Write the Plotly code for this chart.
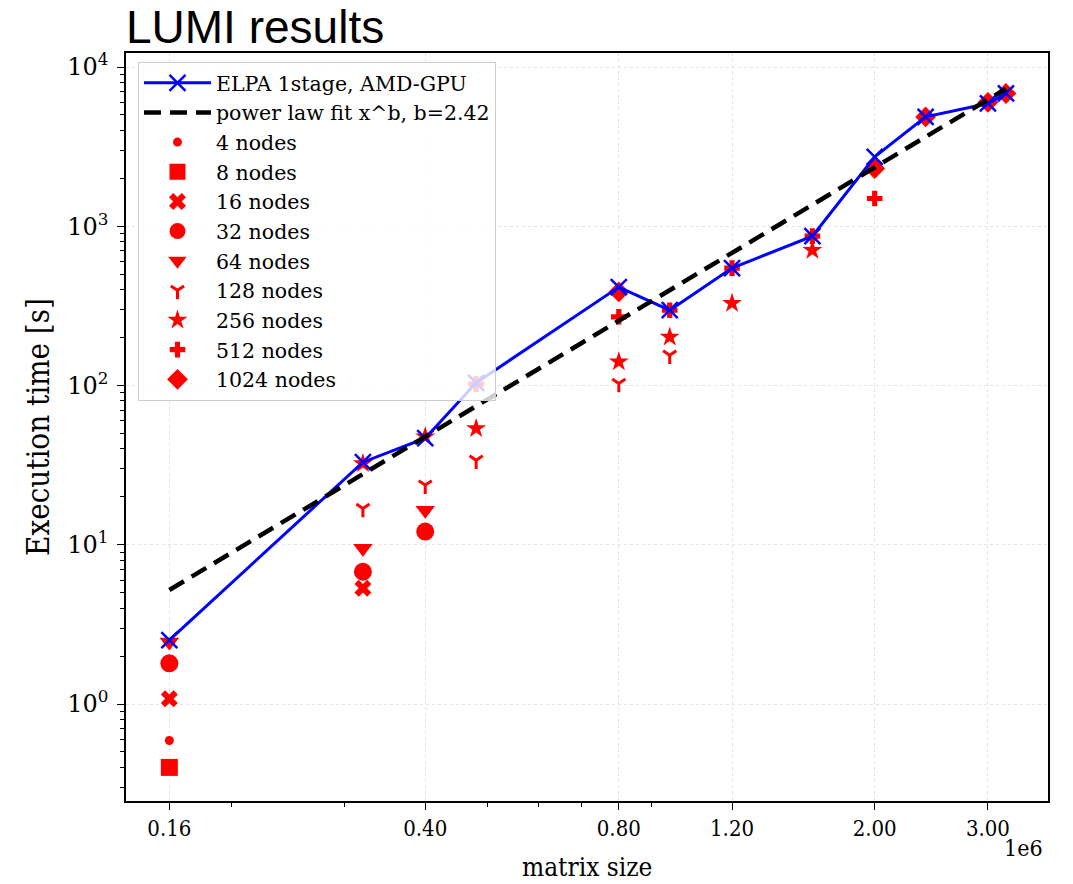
import numpy as np
import plotly.graph_objects as go

# ---------------- data (matrix size in units of 1e6, time in seconds) -------------
elpa_sizes = [0.16, 0.32, 0.40, 0.48, 0.80, 0.96, 1.20, 1.60, 2.00, 2.40, 3.00, 3.20]
elpa_times = [2.52, 33.0, 46.7, 104.0, 415.0, 297.0, 546.0, 867.0, 2728.0, 4862.0, 5902.0, 6820.0]

fit_sizes = [0.16, 3.20]
fit_times = [5.2, 7300.0]
fit_label = "power law fit x^b, b=2.42"

node_labels = ["4 nodes", "8 nodes", "16 nodes", "32 nodes", "64 nodes",
               "128 nodes", "256 nodes", "512 nodes", "1024 nodes"]

n4_sizes = [0.16]
n4_times = [0.59]
n8_sizes = [0.16]
n8_times = [0.40]
n16_sizes = [0.16, 0.32]
n16_times = [1.08, 5.33]
n32_sizes = [0.16, 0.32, 0.40]
n32_times = [1.80, 6.77, 12.1]
n64_sizes = [0.16, 0.32, 0.40]
n64_times = [2.45, 9.5, 16.5]
n128_sizes = [0.32, 0.40, 0.48, 0.80, 0.96]
n128_times = [16.9, 23.7, 34.0, 103.0, 155.0]
n256_sizes = [0.32, 0.40, 0.48, 0.80, 0.96, 1.20, 1.60]
n256_times = [32.4, 47.6, 53.8, 141.0, 202.0, 328.0, 708.0]
n512_sizes = [0.48, 0.80, 0.96, 1.20, 1.60, 2.00]
n512_times = [102.0, 270.0, 297.0, 546.0, 867.0, 1494.0]
n1024_sizes = [0.80, 2.00, 2.40, 3.00, 3.20]
n1024_times = [387.0, 2306.0, 4860.0, 6000.0, 6820.0]

x_tick_vals = [0.16, 0.40, 0.80, 1.20, 2.00, 3.00]
x_tick_text = ["0.16", "0.40", "0.80", "1.20", "2.00", "3.00"]
x_minor_vals = [0.2, 0.3, 0.5, 0.6, 0.7, 0.9]
y_tick_vals = [1, 10, 100, 1000, 10000]
y_tick_text = ["10<sup>0</sup>", "10<sup>1</sup>", "10<sup>2</sup>", "10<sup>3</sup>", "10<sup>4</sup>"]

SCALE = 1e6

# ---------------- styles ----------------
node_series = [
    (n4_sizes, n4_times, dict(symbol="circle", size=9)),
    (n8_sizes, n8_times, dict(symbol="square", size=17)),
    (n16_sizes, n16_times, dict(symbol="x", size=15)),
    (n32_sizes, n32_times, dict(symbol="circle", size=18)),
    (n64_sizes, n64_times, dict(symbol="triangle-down", size=17)),
    (n128_sizes, n128_times, dict(symbol="y-down", size=11, line=dict(color="red", width=3))),
    (n256_sizes, n256_times, dict(symbol="star", size=15)),
    (n512_sizes, n512_times, dict(symbol="cross", size=13)),
    (n1024_sizes, n1024_times, dict(symbol="diamond", size=16)),
]

fig = go.Figure()

for i, (sz, tm, mk) in enumerate(node_series):
    marker = dict(color="red")
    marker.update(mk)
    fig.add_trace(go.Scatter(
        x=np.array(sz) * SCALE, y=tm, mode="markers", name=node_labels[i],
        marker=marker, legendrank=10 + i,
    ))

fig.add_trace(go.Scatter(
    x=np.array(elpa_sizes) * SCALE, y=elpa_times, mode="lines+markers",
    name="ELPA 1stage, AMD-GPU",
    line=dict(color="#0000ff", width=3),
    marker=dict(symbol="x-thin", size=16, color="#0000ff",
                line=dict(color="#0000ff", width=2.5)),
    legendrank=1,
))

fig.add_trace(go.Scatter(
    x=np.array(fit_sizes) * SCALE, y=fit_times, mode="lines",
    name=fit_label,
    line=dict(color="black", width=4.5, dash="17px,9px"),
    legendrank=2,
))

serif = "DejaVu Serif"
serif_c = "DejaVu Serif Condensed, DejaVu Serif"

W, H = 1073, 884
fig.update_layout(
    width=W, height=H,
    margin=dict(l=126, r=25, t=53, b=83),
    paper_bgcolor="white", plot_bgcolor="white",
    title=dict(text="LUMI results", x=0, xref="paper", xanchor="left",
               y=1 - 27 / H, yref="container", yanchor="middle",
               font=dict(family="Liberation Sans, Arial, sans-serif", size=46, color="black")),
    legend=dict(x=0.013, y=0.988, xanchor="left", yanchor="top",
                bgcolor="rgba(255,255,255,0.8)", bordercolor="#cccccc", borderwidth=1,
                font=dict(family=serif, size=20.5, color="black"),
                itemwidth=67, tracegroupgap=0),
    showlegend=True,
)

fig.update_xaxes(
    type="log",
    range=[np.log10(0.137e6), np.log10(3.72e6)],
    tickvals=[v * SCALE for v in x_tick_vals], ticktext=x_tick_text,
    ticks="outside", ticklen=7, tickwidth=1.3, tickcolor="black",
    showline=True, linecolor="black", linewidth=1.6, mirror=True,
    showgrid=True, gridcolor="#e3e3e3", gridwidth=1, griddash="dot",
    zeroline=False, automargin=False,
    tickfont=dict(family=serif_c, size=22, color="black"),
    minor=dict(tickmode="array", tickvals=[v * SCALE for v in x_minor_vals],
               ticks="outside", ticklen=4, tickwidth=1, tickcolor="black", showgrid=False),
)

fig.update_yaxes(
    type="log",
    range=[-0.609, 4.088],
    tickvals=y_tick_vals, ticktext=y_tick_text,
    ticks="outside", ticklen=7, tickwidth=1.3, tickcolor="black",
    ticklabelstandoff=4,
    showline=True, linecolor="black", linewidth=1.6, mirror=True,
    showgrid=True, gridcolor="#e3e3e3", gridwidth=1, griddash="dot",
    zeroline=False, automargin=False,
    tickfont=dict(family=serif, size=24, color="black"),
    minor=dict(dtick="D1", ticks="outside", ticklen=4, tickwidth=1,
               tickcolor="black", showgrid=False),
    title=dict(text="Execution time [s]", standoff=8,
               font=dict(family=serif_c, size=31, color="black")),
)

# x-axis title and offset text
fig.add_annotation(text="matrix size", x=0.5, y=-0.0885, xref="paper", yref="paper",
                   xanchor="center", yanchor="middle", showarrow=False,
                   font=dict(family=serif_c, size=26, color="black"))
fig.add_annotation(text="1e6", x=0.997, y=-0.063, xref="paper", yref="paper",
                   xanchor="right", yanchor="middle", showarrow=False,
                   font=dict(family=serif_c, size=23, color="black"))

# remove the default 8px page margin so the figure sits at the window origin
fig.write_html("out.html", config={"displayModeBar": False},
               post_script="document.body.style.margin='0';")
